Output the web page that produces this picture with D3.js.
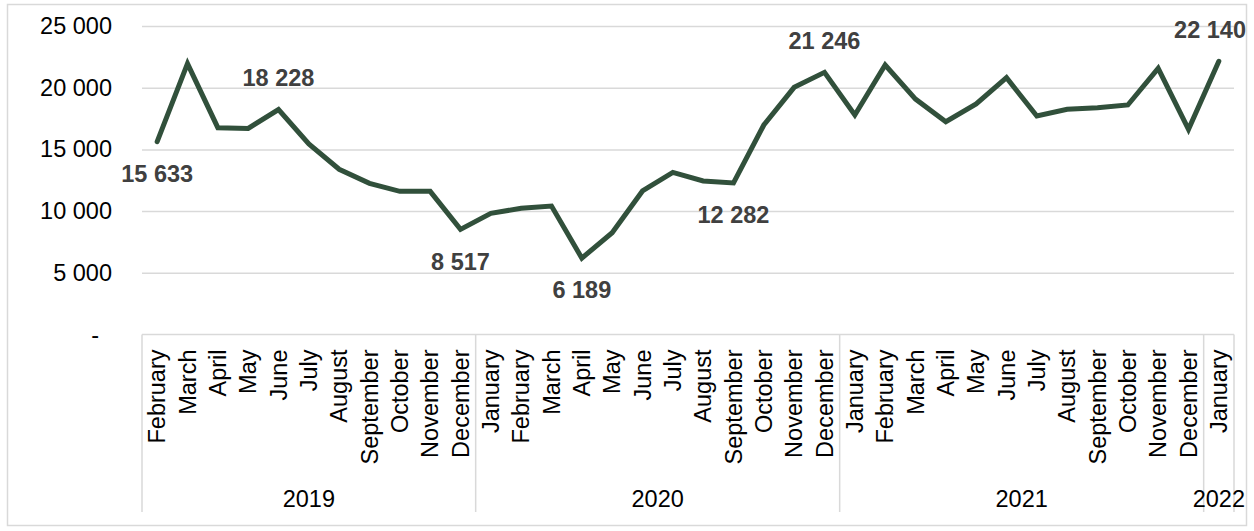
<!DOCTYPE html>
<html>
<head>
<meta charset="utf-8">
<script src="https://cdn.jsdelivr.net/npm/d3@7"></script>
<style>
  html, body { margin: 0; padding: 0; background: #fff; }
  svg { display: block; font-family: "Liberation Sans", Arial, sans-serif; }
</style>
</head>
<body>
<svg id="chart" width="1254" height="531"></svg>
<script>
// Monthly series, February 2019 – January 2022
const months = [
  "February","March","April","May","June","July","August","September","October","November","December",
  "January","February","March","April","May","June","July","August","September","October","November","December",
  "January","February","March","April","May","June","July","August","September","October","November","December",
  "January"
];
const years = ["2019", "2020", "2021", "2022"];
const monthsPerYear = [11, 12, 12, 1];
const values = [
  15633, 21950, 16760, 16700, 18228, 15440, 13390, 12250, 11600, 11600, 8517,
  9820, 10230, 10410, 6189, 8250, 11630, 13140, 12440, 12282, 16980, 20030, 21246,
  17790, 21840, 19080, 17250, 18680, 20810, 17710, 18250, 18380, 18600, 21570, 16630,
  22140
];
// Points that carry a value label, and whether the label sits above or below
const labelIdx = [0, 4, 10, 14, 19, 22, 35];
const labelPos = ["below", "above", "below", "below", "below", "above", "above"];
const yTicks = [0, 5000, 10000, 15000, 20000, 25000];

const svg = d3.select("#chart");
const plotLeft = 142, plotRight = 1234, plotTop = 26, plotBase = 334.5, boxBottom = 512;
const gridColor = "#d9d9d9";
const fontSize = 23.5;

const locale = d3.formatLocale({ decimal: ",", thousands: " ", grouping: [3], currency: ["", ""] });
const fmt = locale.format(",d");
const tickFmt = v => v === 0 ? "-" : fmt(v);

// Chart frame
svg.append("rect")
  .attr("x", 7.5).attr("y", 4.5).attr("width", 1239).attr("height", 521)
  .attr("fill", "#fff").attr("stroke", gridColor).attr("stroke-width", 1.5);

const x = d3.scaleBand().domain(d3.range(values.length)).range([plotLeft, plotRight]).paddingInner(0).paddingOuter(0);
const cx = i => x(i) + x.bandwidth() / 2;
const y = d3.scaleLinear().domain([0, 25000]).range([plotBase, plotTop]);

// Horizontal gridlines
svg.append("g")
  .attr("transform", `translate(${plotLeft},0)`)
  .call(d3.axisLeft(y).tickValues(yTicks.filter(v => v > 0)).tickSize(-(plotRight - plotLeft)).tickFormat(""))
  .call(g => g.select(".domain").remove())
  .call(g => g.selectAll("line").attr("stroke", gridColor).attr("stroke-width", 1.5));

// Y tick labels
const yAxis = svg.append("g")
  .attr("transform", `translate(112,0)`)
  .call(d3.axisLeft(y).tickValues(yTicks).tickSize(0).tickPadding(0).tickFormat(tickFmt))
  .call(g => g.select(".domain").remove());
yAxis.selectAll("text")
  .attr("font-size", fontSize).attr("font-family", "Liberation Sans, Arial, sans-serif")
  .attr("fill", "#000")
  .attr("x", d => d === 0 ? -13 : 0);

// Category box: top line plus year separators
const box = svg.append("g").attr("stroke", gridColor).attr("stroke-width", 1.5);
box.append("line").attr("x1", plotLeft).attr("x2", plotRight).attr("y1", plotBase).attr("y2", plotBase);
let acc = 0;
const bounds = [0];
monthsPerYear.forEach(n => { acc += n; bounds.push(acc); });
bounds.forEach(b => {
  const bx = b < values.length ? x(b) : plotRight;
  box.append("line").attr("x1", bx).attr("x2", bx).attr("y1", plotBase).attr("y2", boxBottom);
});

// Month labels (rotated)
const xAxis = svg.append("g")
  .attr("transform", `translate(0,${plotBase})`)
  .call(d3.axisBottom(x).tickSize(0).tickFormat(i => months[i]))
  .call(g => g.select(".domain").remove());
xAxis.selectAll("text")
  .attr("font-size", 23.5).attr("font-family", "Liberation Sans, Arial, sans-serif")
  .attr("fill", "#000")
  .attr("text-anchor", "end")
  .attr("transform", "rotate(-90)")
  .attr("x", -15).attr("y", 0).attr("dy", "0.35em");

// Year labels
years.forEach((yr, k) => {
  const x0 = x(bounds[k]);
  const x1 = bounds[k + 1] < values.length ? x(bounds[k + 1]) : plotRight;
  svg.append("text")
    .attr("x", (x0 + x1) / 2).attr("y", 507)
    .attr("text-anchor", "middle")
    .attr("font-size", fontSize).attr("fill", "#000")
    .text(yr);
});

// Series line
svg.append("path")
  .datum(values)
  .attr("fill", "none")
  .attr("stroke", "#31503b")
  .attr("stroke-width", 5)
  .attr("stroke-linejoin", "miter")
  .attr("stroke-linecap", "round")
  .attr("d", d3.line().x((d, i) => cx(i)).y(d => y(d)));

// Value labels
labelIdx.forEach((i, k) => {
  const t = svg.append("text")
    .attr("font-size", fontSize).attr("font-weight", "bold").attr("fill", "#404040")
    .attr("text-anchor", "middle")
    .attr("dy", "0.35em")
    .attr("y", y(values[i]) + (labelPos[k] === "above" ? -32 : 32))
    .text(fmt(values[i]));
  const w = t.node().getComputedTextLength();
  let px = cx(i);
  if (px + w / 2 > 1246) px = 1246 - w / 2;
  t.attr("x", px);
});
</script>
</body>
</html>
